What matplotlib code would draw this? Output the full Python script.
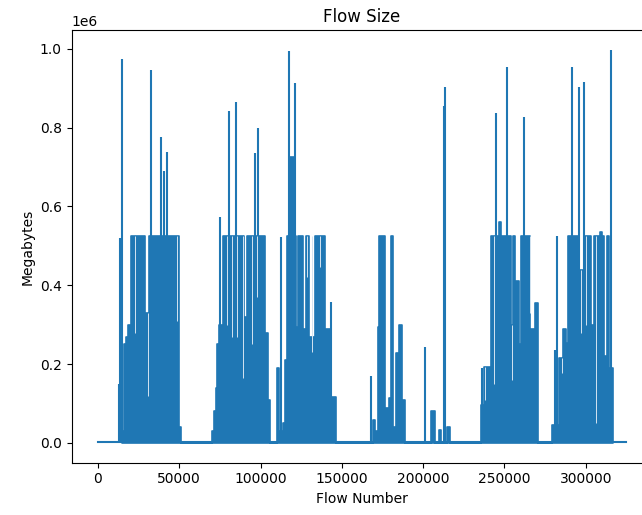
import numpy as np
import matplotlib
matplotlib.use("Agg")
import matplotlib.pyplot as plt

# flow numbers where the dense part of each burst changes level (steps-post),
# and the level reached by the packed lines there (in units of 1e6)
fill_flow = [
    15000, 16000, 17500, 18700, 20100, 28900, 31400, 49800, 51000,
    70000, 71500, 72500, 73500, 74600, 77200, 90000, 91500, 102800, 104300, 105800,
    110400, 111600, 114100, 115100, 116200, 117600, 120400, 121900, 123300, 125800,
    128100, 129500, 133200, 139800, 142900, 146600,
    168900, 170600, 172200, 173000, 176700, 178800, 180400, 181500, 183300, 184900,
    187000, 188600, 204700, 207500, 209600, 211200, 214700, 216800,
    235700, 237300, 241800, 246600, 248000, 254000, 255400, 256800, 258800, 259900,
    266000, 268800, 270500,
    279400, 283500, 285900, 287600, 289200, 295800, 298900, 303000, 305000, 309000,
    309800, 311200, 312800, 314200, 316900,
]
fill_size = [
    0.03, 0.25, 0.27, 0.30, 0.525, 0.33, 0.525, 0.04, 0.0,
    0.03, 0.08, 0.14, 0.25, 0.30, 0.525, 0.32, 0.525, 0.28, 0.11, 0.0,
    0.19, 0.03, 0.05, 0.21, 0.525, 0.725, 0.525, 0.295, 0.525, 0.29,
    0.525, 0.27, 0.525, 0.29, 0.117, 0.0,
    0.058, 0.03, 0.295, 0.526, 0.088, 0.114, 0.526, 0.04, 0.227, 0.30,
    0.11, 0.0, 0.08, 0.0, 0.033, 0.0, 0.04, 0.0,
    0.096, 0.193, 0.525, 0.56, 0.525, 0.30, 0.525, 0.41, 0.25, 0.525,
    0.29, 0.354, 0.0,
    0.045, 0.215, 0.29, 0.253, 0.525, 0.44, 0.525, 0.30, 0.525, 0.535,
    0.525, 0.22, 0.525, 0.19, 0.0,
]

# single tall flows standing above the packed area
spike_flow = [13100, 13400, 14600, 32600, 38600, 40700, 42300,
              75100, 80700, 85000, 96300, 98700,
              112700, 117600, 120900, 143500,
              167900, 201000, 212600, 213700,
              236300, 245100, 251300, 261900,
              281000, 282500, 291700, 295800, 299100, 315300]
spike_size = [0.15, 0.52, 0.975, 0.947, 0.775, 0.69, 0.737,
              0.573, 0.843, 0.864, 0.735, 0.80,
              0.523, 0.995, 0.912, 0.358,
              0.17, 0.244, 0.855, 0.902,
              0.19, 0.838, 0.953, 0.826,
              0.235, 0.525, 0.953, 0.902, 0.915, 0.997]

# thin light gaps inside the packed area: flow number, lowest point, top
gap_flow = [22800, 30600, 48600, 79200, 82300, 85500, 89500, 94600, 97700,
            128800, 131800, 136700, 238300, 243400, 254700, 265500,
            285500, 297000, 300000, 306300]
gap_low = [0.28, 0.12, 0.31, 0.30, 0.27, 0.27, 0.165, 0.25, 0.37,
           0.42, 0.23, 0.446, 0.11, 0.15, 0.16, 0.33,
           0.177, 0.28, 0.30, 0.05]
gap_top = [0.525, 0.33, 0.525, 0.525, 0.525, 0.525, 0.525, 0.525, 0.525,
           0.525, 0.525, 0.525, 0.193, 0.525, 0.30, 0.525,
           0.215, 0.44, 0.525, 0.525]

# near-zero floor over all flows
base_flow = [0, 324500]
base_size = [0.003, 0.003]

blue = "#1f77b4"
scale = 1e6

fig = plt.figure(figsize=(6.42, 5.15), dpi=100)
ax = fig.add_axes([0.1115, 0.1017, 0.904, 0.8394])

ax.plot(base_flow, np.array(base_size) * scale, color=blue, lw=1.5)
ax.fill_between(fill_flow, 0, np.array(fill_size) * scale, step="post",
                color=blue, lw=1.2, edgecolor=blue)
ax.vlines(spike_flow, 0, np.array(spike_size) * scale, color=blue, lw=1.5)
ax.vlines(gap_flow, np.array(gap_low) * scale, np.array(gap_top) * scale,
          color="#d4e4f1", lw=0.7)

ax.set_title("Flow Size")
ax.set_xlabel("Flow Number")
ax.set_ylabel("Megabytes")

fig.savefig("out.png", dpi=100)
